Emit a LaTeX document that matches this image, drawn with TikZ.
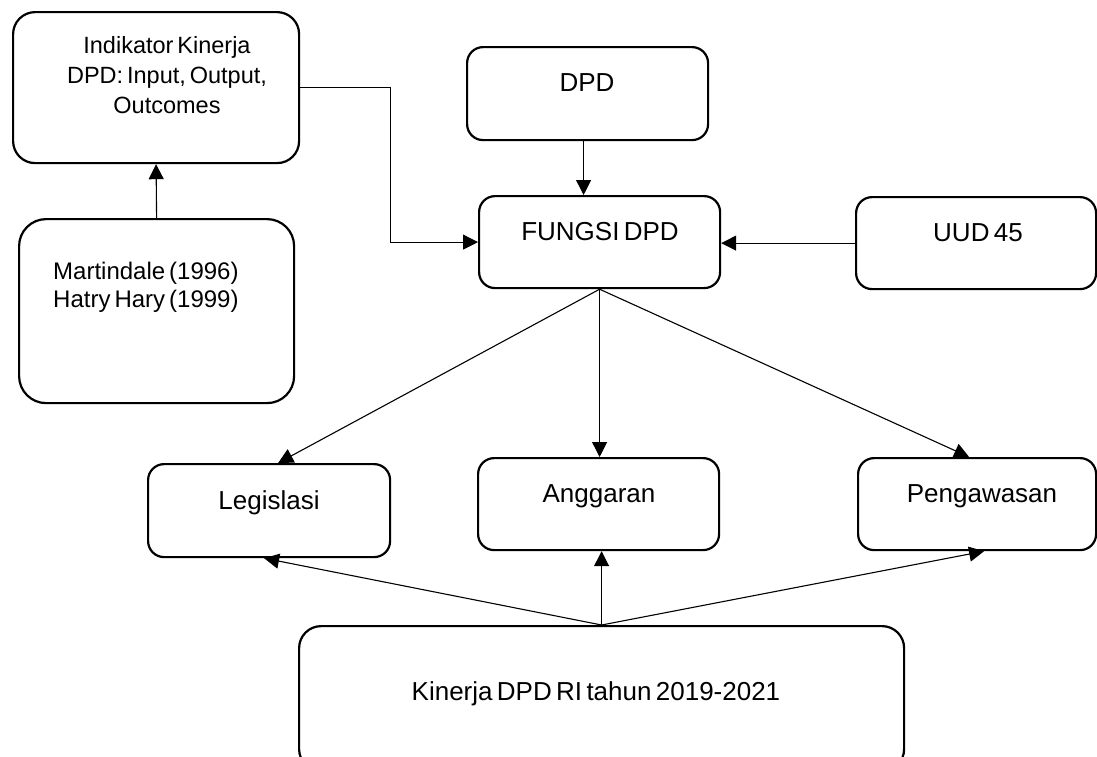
\documentclass[tikz,border=0pt]{standalone}
\usepackage{fontspec}
\setmainfont{Liberation Sans}[WordSpace=0.6]
\usetikzlibrary{arrows.meta,calc}
\begin{document}
\begin{tikzpicture}[x=1pt,y=-1pt,
  box/.style={draw, line width=2.2pt, rounded corners=16pt, inner sep=0pt, anchor=north west},
  lbl/.style={inner sep=0pt, font=\fontsize{26}{31}\selectfont, anchor=base},
  conn/.style={line width=1.1pt},
  arr/.style={line width=1.1pt, -{Triangle[length=15pt,width=15pt]}}
]
\useasboundingbox (0,0) rectangle (1097,756);
\clip (0,0) rectangle (1097,756);

% boxes
\node[box, rounded corners=22pt, minimum width=286pt, minimum height=151pt] (ind) at (12,11) {};
\node[box, rounded corners=27pt, minimum width=275pt, minimum height=184pt] (mart) at (18,218) {};
\node[box, minimum width=241pt, minimum height=93pt] (dpd) at (466,46) {};
\node[box, minimum width=241pt, minimum height=92pt] (fungsi) at (478,195) {};
\node[box, minimum width=240pt, minimum height=92pt] (uud) at (855,196) {};
\node[box, minimum width=242pt, minimum height=93pt] (leg) at (147,463) {};
\node[box, minimum width=241pt, minimum height=92pt] (ang) at (477,457) {};
\node[box, minimum width=238pt, minimum height=92pt] (peng) at (857,457) {};
\node[box, rounded corners=22pt, minimum width=605pt, minimum height=145pt] (kin) at (298,625) {};

% texts
\node[lbl, align=center, font=\fontsize{23.5}{30}\selectfont] (tind) at (167,113) {Indikator Kinerja\\DPD: Input, Output,\\Outcomes};
\node[lbl, anchor=base west, align=left, font=\fontsize{24}{28}\selectfont] (tmart) at (53,307) {Martindale (1996)\\Hatry Hary (1999)};
\node[lbl] (tdpd) at (587,91) {DPD};
\node[lbl] (tfungsi) at (600,240) {FUNGSI DPD};
\node[lbl] (tuud) at (978,241) {UUD 45};
\node[lbl] (tleg) at (269,509) {Legislasi};
\node[lbl] (tang) at (599,502) {Anggaran};
\node[lbl] (tpeng) at (982,502) {Pengawasan};
\node[lbl] (tkin) at (596,700) {Kinerja DPD RI tahun 2019-2021};

% connectors
\draw[arr] (mart.north) -- (ind.south);
\draw[arr] (ind.east) -- ++(90,0) |- (fungsi.west);
\draw[arr] ([xshift=-4pt]dpd.south) -- ([xshift=-4pt]dpd.south |- fungsi.north);
\draw[arr] (uud.west) -- (uud.west -| fungsi.east);
\draw[arr] (fungsi.south) -- ([xshift=9pt]leg.north);
\draw[arr] (fungsi.south) -- (fungsi.south |- ang.north);
\draw[arr] (fungsi.south) -- ([xshift=-8pt]peng.north);
\draw[arr] (kin.north) -- ([xshift=-5pt]leg.south);
\draw[arr] (kin.north) -- (kin.north |- ang.south);
\draw[arr] (kin.north) -- ([xshift=7pt]peng.south);
\end{tikzpicture}
\end{document}
